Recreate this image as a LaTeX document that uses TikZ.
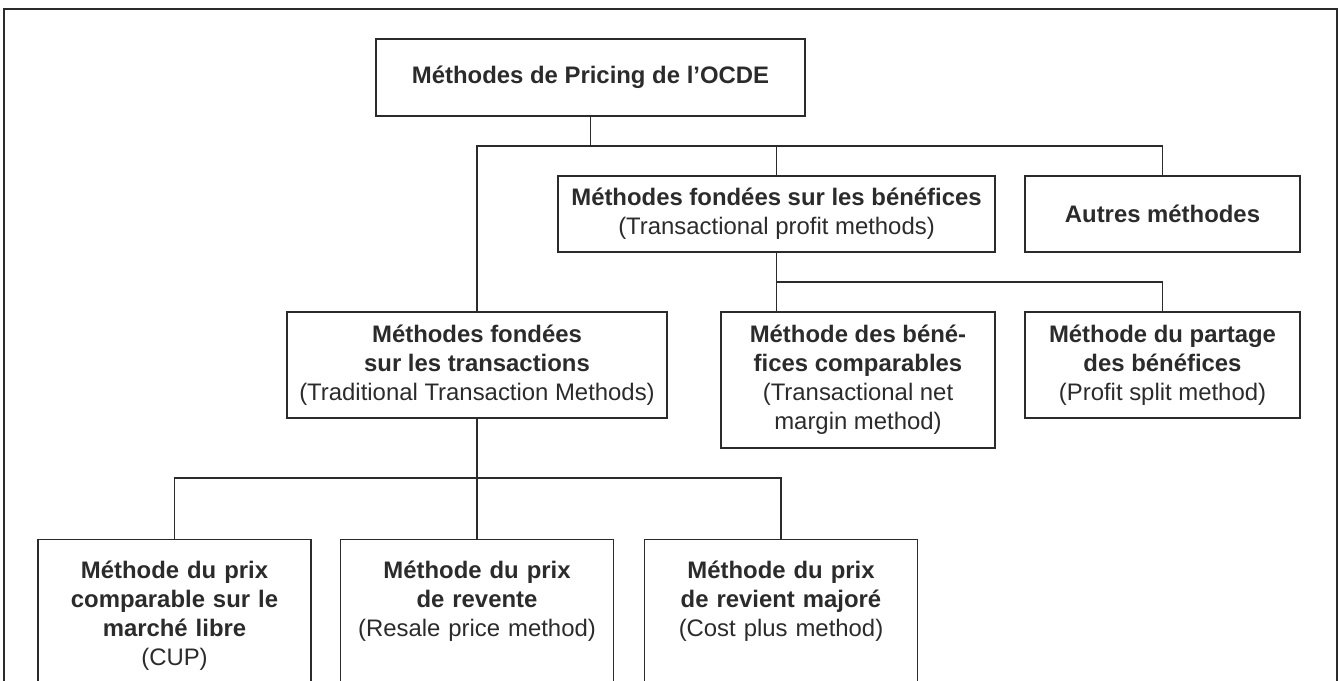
\documentclass[tikz,border=0pt]{standalone}
\usepackage{fontspec}
\setsansfont{Liberation Sans}
\definecolor{ink}{HTML}{2B2B2B}
\tikzset{
  font=\sffamily\fontsize{13.6}{16.5}\selectfont,
  %
  box/.style={draw=ink, line width=0.7pt, align=center, text=ink, inner sep=0pt},
  boxlow/.style={box, anchor=north, text width=5.46cm,
                 text height=0.77cm, text depth=3cm},
  %
  link/.style={draw=ink, line width=0.7pt},
}
\begin{document}
\begin{tikzpicture}[x=0.02cm, y=-0.02cm]

  \useasboundingbox (0,0) rectangle (1339,680);
  \draw[link] (4,9) rectangle (1337,720);

  % --- root and first level ---------------------------------------------
  \node[box, minimum width=8.58cm, minimum height=1.54cm] (top) at (590.5,77.5)
    {\textbf{Méthodes de Pricing de l’OCDE}};

  \node[box, minimum width=8.74cm, minimum height=1.52cm] (benef) at (776.5,214)
    {\textbf{Méthodes fondées sur les bénéfices}\\(Transactional profit methods)};
  \node[box, minimum width=5.5cm, minimum height=1.52cm] (autres) at (1162.5,214)
    {\textbf{Autres méthodes}};

  % --- second level -------------------------------------------------------
  \node[box, minimum width=7.6cm, minimum height=2.12cm] (trans) at (477,365)
    {\textbf{Méthodes fondées}\\\textbf{sur les transactions}\\(Traditional Transaction Methods)};
  \node[box, minimum width=5.48cm, minimum height=2.72cm] (tnmm) at (858,380)
    {\textbf{Méthode des béné-}\\\textbf{fices comparables}\\(Transactional net\\margin method)};
  \node[box, minimum width=5.5cm, minimum height=2.12cm] (partage) at (1162.5,365)
    {\textbf{Méthode du partage}\\\textbf{des bénéfices}\\(Profit split method)};

  % --- traditional methods ------------------------------------------------
  \node[boxlow] (cup) at (174.5,539)
    {\textbf{Méthode du prix}\\\textbf{comparable sur le}\\\textbf{marché libre}\\(CUP)};
  \node[boxlow] (resale) at (477,539)
    {\textbf{Méthode du prix}\\\textbf{de revente}\\(Resale price method)};
  \node[boxlow] (cost) at (781,539)
    {\textbf{Méthode du prix}\\\textbf{de revient majoré}\\(Cost plus method)};

  % --- connectors ---------------------------------------------------------
  \coordinate (bus1) at (0,146);
  \coordinate (bus2) at (0,282);
  \coordinate (bus3) at (0,478);

  \draw[link] (top.south) -- (top.south |- bus1);
  \draw[link] (trans.north) -- (trans.north |- bus1) -| (autres.north);
  \draw[link] (benef.north) -- (benef.north |- bus1);

  \draw[link] (benef.south) -- (benef.south |- tnmm.north);
  \draw[link] (benef.south |- bus2) -| (partage.north);

  \draw[link] (cup.north) -- (cup.north |- bus3) -| (cost.north);
  \draw[link] (trans.south) -- (resale.north);

\end{tikzpicture}
\end{document}
